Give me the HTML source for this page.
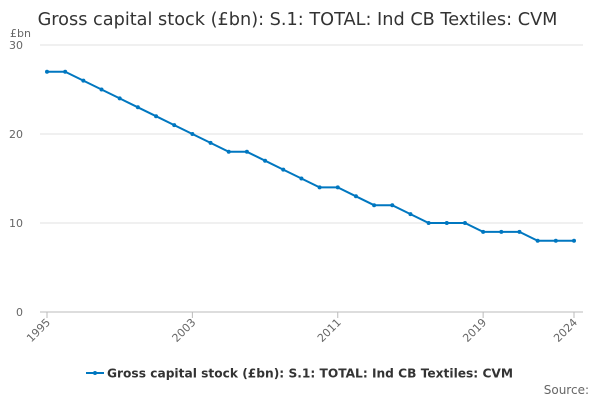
<!DOCTYPE html>
<html><head><meta charset="utf-8"><style>
body{margin:0;background:#fff;font-family:"DejaVu Sans","Liberation Sans",sans-serif;}
svg{display:block}
</style></head><body>
<svg width="600" height="400" id="c" font-family="DejaVu Sans, Liberation Sans, sans-serif">
<text x="297.5" y="25" font-size="17.7" fill="#333" text-anchor="middle">Gross capital stock (£bn): S.1: TOTAL: Ind CB Textiles: CVM</text>
<text x="10" y="37" font-size="11" fill="#666">£bn</text>
<g id="grid"></g><g id="xt"></g><g id="plot"></g>
<g>
<line x1="86" y1="373" x2="104" y2="373" stroke="#0077c0" stroke-width="2"/>
<circle cx="95" cy="373" r="2" fill="#0077c0"/>
<text x="107" y="377.5" font-size="12" font-weight="bold" fill="#333" textLength="406" lengthAdjust="spacingAndGlyphs">Gross capital stock (£bn): S.1: TOTAL: Ind CB Textiles: CVM</text>
</g>
<text x="589" y="394" font-size="12" fill="#666" text-anchor="end">Source:</text>
</svg>
<script>
const years=[1995,1996,1997,1998,1999,2000,2001,2002,2003,2004,2005,2006,2007,2008,2009,2010,2011,2012,2013,2014,2015,2016,2017,2018,2019,2020,2021,2022,2023,2024];
const values=[27,27,26,25,24,23,22,21,20,19,18,18,17,16,15,14,14,13,12,12,11,10,10,10,9,9,9,8,8,8];
const yTicks=[0,10,20,30];
const xTickLabels=[1995,2003,2011,2019,2024];
const NS="http://www.w3.org/2000/svg";
const x=v=>47+(v-1995)*(527/29);
const y=v=>312-v*8.9;
function mk(t,a,p){const e=document.createElementNS(NS,t);for(const k in a)e.setAttribute(k,a[k]);p.appendChild(e);return e;}
const grid=document.getElementById('grid'),xt=document.getElementById('xt'),plot=document.getElementById('plot');
yTicks.forEach(v=>{
 const l=mk('line',{x1:40,x2:583,y1:y(v),y2:y(v),stroke:v==0?'#bbb':'#e0e0e0','stroke-width':1},grid);
 
 
 const t=mk('text',{x:23,y:y(v)+4,'font-size':11,fill:'#666','text-anchor':'end'},grid);t.textContent=v;
 
 
});
xTickLabels.forEach(v=>{
 const tk=mk('line',{x1:x(v),x2:x(v),y1:312,y2:318,stroke:'#bbb'},xt);
 
 
 const t=mk('text',{x:x(v)+4,y:323,'font-size':11,fill:'#666','text-anchor':'end',transform:`rotate(-45 ${x(v)+4} 323)`},xt);t.textContent=v;
 
 
});
const ln=mk('polyline',{points:years.map((yr,i)=>x(yr)+','+y(values[i])).join(' '),fill:'none',stroke:'#0077c0','stroke-width':2},plot);


years.forEach((yr,i)=>{
 const c=mk('circle',{cx:x(yr),cy:y(values[i]),r:2,fill:'#0077c0'},plot);
 
 
});
</script>
</body></html>
